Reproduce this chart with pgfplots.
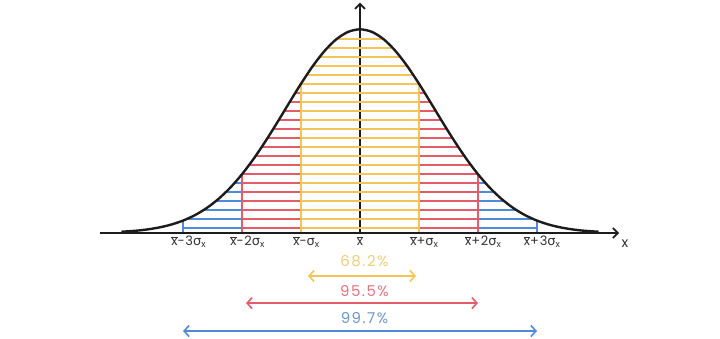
\documentclass[border=0pt]{standalone}
\usepackage{fontspec}
\setmainfont{Poppins}[LetterSpace=6]
\newfontfamily\sg{DejaVu Sans}
\usepackage{pgfplots}
\pgfplotsset{compat=1.18}
\usetikzlibrary{arrows.meta}
\definecolor{yel}{HTML}{F5C458}
\definecolor{rd}{HTML}{E55B6A}
\definecolor{bl}{HTML}{4F8ADB}
\definecolor{yelt}{HTML}{F0CE78}
\definecolor{rdt}{HTML}{E8727E}
\definecolor{blt}{HTML}{6C93D2}
\definecolor{crv}{HTML}{1C1C1C}
\newcommand\xb{\ensuremath{\overline{\mbox{x}}}}
\newcommand\sgx{{\sg σ}\textsubscript{x}}
\begin{document}
\begin{tikzpicture}
\begin{axis}[
  x=58.9bp, y=203.7bp,
  xmin=-6.112, xmax=6.112, ymin=-0.520, ymax=1.144,
  hide axis, clip=false,
  unbounded coords=jump,
  hatch/.style={line width=2bp},
]
\path (rel axis cs:0,0) rectangle (rel axis cs:1,1);
% vertical axis
\addplot[crv, line width=1.8bp, -{Straight Barb[length=5bp,width=10bp]}] coordinates {(0,0) (0,1.131)};
% hatch lines: blue
\addplot[bl, hatch] coordinates {
(-3.000,0.0245) (3.000,0.0245) (0,nan)
(-2.940,0.0688) (2.940,0.0688) (0,nan)
(-2.653,0.1131) (2.653,0.1131) (0,nan)
(-2.444,0.1574) (2.444,0.1574) (0,nan)
(-2.274,0.2017) (2.274,0.2017) (0,nan)
(-2.128,0.2460) (2.128,0.2460)
};
% red
\addplot[rd, hatch] coordinates {
(-2.000,0.0245) (2.000,0.0245) (0,nan)
(-2.000,0.0688) (2.000,0.0688) (0,nan)
(-2.000,0.1131) (2.000,0.1131) (0,nan)
(-2.000,0.1574) (2.000,0.1574) (0,nan)
(-2.000,0.2017) (2.000,0.2017) (0,nan)
(-2.000,0.2460) (2.000,0.2460) (0,nan)
(-1.999,0.2903) (1.999,0.2903) (0,nan)
(-1.881,0.3346) (1.881,0.3346) (0,nan)
(-1.771,0.3789) (1.771,0.3789) (0,nan)
(-1.667,0.4232) (1.667,0.4232) (0,nan)
(-1.567,0.4675) (1.567,0.4675) (0,nan)
(-1.471,0.5118) (1.471,0.5118) (0,nan)
(-1.377,0.5561) (1.377,0.5561) (0,nan)
(-1.284,0.6004) (1.284,0.6004) (0,nan)
(-1.191,0.6447) (1.191,0.6447) (0,nan)
(-1.097,0.6890) (1.097,0.6890)
};
% yellow
\addplot[yel, hatch] coordinates {
(-1,0.0245) (1,0.0245) (0,nan)
(-1,0.0688) (1,0.0688) (0,nan)
(-1,0.1131) (1,0.1131) (0,nan)
(-1,0.1574) (1,0.1574) (0,nan)
(-1,0.2017) (1,0.2017) (0,nan)
(-1,0.2460) (1,0.2460) (0,nan)
(-1,0.2903) (1,0.2903) (0,nan)
(-1,0.3346) (1,0.3346) (0,nan)
(-1,0.3789) (1,0.3789) (0,nan)
(-1,0.4232) (1,0.4232) (0,nan)
(-1,0.4675) (1,0.4675) (0,nan)
(-1,0.5118) (1,0.5118) (0,nan)
(-1,0.5561) (1,0.5561) (0,nan)
(-1,0.6004) (1,0.6004) (0,nan)
(-1,0.6447) (1,0.6447) (0,nan)
(-1,0.6890) (1,0.6890) (0,nan)
(-1,0.7333) (1,0.7333) (0,nan)
(-0.901,0.7776) (0.901,0.7776) (0,nan)
(-0.796,0.8219) (0.796,0.8219) (0,nan)
(-0.681,0.8662) (0.681,0.8662) (0,nan)
(-0.550,0.9105) (0.550,0.9105) (0,nan)
(-0.387,0.9548) (0.387,0.9548)
};
% boundary verticals
\addplot[bl, line width=2.2bp, ycomb] coordinates {(-3,0.0616) (3,0.0616)};
\addplot[rd, line width=2.2bp, ycomb] coordinates {(-2,0.2899) (2,0.2899)};
\addplot[yel, line width=2.2bp, ycomb] coordinates {(-1,0.7337) (1,0.7337)};
% x axis
\addplot[crv, line width=1.8bp, -{Straight Barb[length=5bp,width=10bp]}] coordinates {(-4.41,0) (4.40,0)};
% curve
\addplot[crv, line width=2.4bp, smooth] coordinates {
(-4.05,0.0063) (-3.8,0.01144) (-3.6,0.01809) (-3.4,0.02791) (-3.2,0.04199) (-3.0,0.06164)
(-2.8,0.08828) (-2.6,0.12333) (-2.4,0.16809) (-2.2,0.22348) (-2.0,0.28985)
(-1.8,0.36674) (-1.6,0.45268) (-1.4,0.54509) (-1.2,0.64030) (-1.0,0.73374)
(-0.8,0.82025) (-0.6,0.89453) (-0.4,0.95167) (-0.2,0.98768) (0,1)
(0.2,0.98768) (0.4,0.95167) (0.6,0.89453) (0.8,0.82025) (1.0,0.73374)
(1.2,0.64030) (1.4,0.54509) (1.6,0.45268) (1.8,0.36674) (2.0,0.28985)
(2.2,0.22348) (2.4,0.16809) (2.6,0.12333) (2.8,0.08828) (3.0,0.06164)
(3.2,0.04199) (3.4,0.02791) (3.6,0.01809) (3.8,0.01144) (4.05,0.0063)
};
% tick labels
\begin{scope}[every node/.style={anchor=base, text=black!80, font=\fontsize{13}{15}\selectfont, inner sep=0pt}]
\node at (axis cs:-2.907,-0.061) {\xb-3\sgx};
\node at (axis cs:-1.907,-0.061) {\xb-2\sgx};
\node at (axis cs:-0.907,-0.061) {\xb-\sgx};
\node at (axis cs:0,-0.061) {\xb};
\node at (axis cs:1.093,-0.061) {\xb+\sgx};
\node at (axis cs:2.093,-0.061) {\xb+2\sgx};
\node at (axis cs:3.093,-0.061) {\xb+3\sgx};
\node[font=\fontsize{14}{16}\selectfont] at (axis cs:4.50,-0.071) {x};
\end{scope}
% bottom range arrows
\addplot[yel, line width=1.6bp, {Straight Barb[length=5bp,width=11bp]}-{Straight Barb[length=5bp,width=11bp]}] coordinates {(-0.883,-0.211) (0.951,-0.211)};
\addplot[rd, line width=1.6bp, {Straight Barb[length=5bp,width=11bp]}-{Straight Barb[length=5bp,width=11bp]}] coordinates {(-1.935,-0.344) (2.003,-0.344)};
\addplot[bl, line width=1.6bp, {Straight Barb[length=5bp,width=11bp]}-{Straight Barb[length=5bp,width=11bp]}] coordinates {(-3.005,-0.481) (3.005,-0.481)};
\begin{scope}[every node/.style={anchor=base, font=\fontsize{15}{17}\selectfont\addfontfeatures{LetterSpace=10}, inner sep=0pt}]
\node[text=yelt] at (axis cs:0.076,-0.162) {68.2\%};
\node[text=rdt] at (axis cs:0.076,-0.312) {95.5\%};
\node[text=blt] at (axis cs:0.076,-0.442) {99.7\%};
\end{scope}
\end{axis}
\end{tikzpicture}
\end{document}
